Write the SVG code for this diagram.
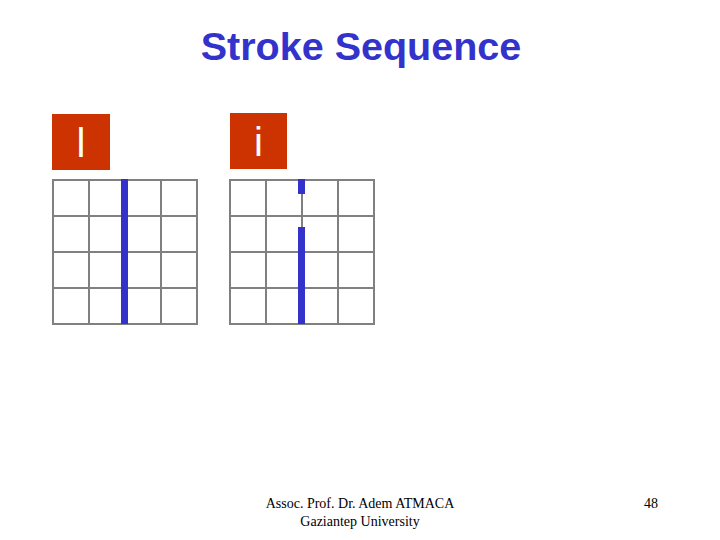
<svg xmlns="http://www.w3.org/2000/svg" width="720" height="540" viewBox="0 0 720 540">
<style>
.title{font-family:"Liberation Sans",Arial,sans-serif;font-weight:bold;font-size:39.5px;fill:#3333CC;text-anchor:middle}
.box{fill:#CC3300}
.letter{font-family:"Liberation Sans",Arial,sans-serif;font-size:40px;fill:#FFFFFF;text-anchor:middle}
.grid{fill:none;stroke:#808080;stroke-width:2}
.stroke{fill:#3333CC}
.foot{font-family:"Liberation Serif","Times New Roman",serif;font-size:14px;fill:#000000;text-anchor:middle}
</style>
<rect width="720" height="540" fill="#FFFFFF"/>
<text class="title" x="361" y="60">Stroke Sequence</text>
<g id="char-l">
<rect class="box" x="52" y="114" width="58" height="56"/>
<text class="letter" x="81" y="157">l</text>
</g>
<g id="grid-l">
<rect class="grid" x="53" y="180" width="144" height="144"/>
<path class="grid" d="M89 180V324M125 180V324M161 180V324M53 216H197M53 252H197M53 288H197"/>
<rect class="stroke" x="121" y="179" width="7" height="145"/>
</g>
<g id="char-i">
<rect class="box" x="230" y="113" width="57" height="56"/>
<text class="letter" x="258.5" y="156">i</text>
</g>
<g id="grid-i">
<rect class="grid" x="230" y="180" width="144" height="144"/>
<path class="grid" d="M266 180V324M302 180V324M338 180V324M230 216H374M230 252H374M230 288H374"/>
<rect class="stroke" x="298" y="179" width="7" height="15"/>
<rect class="stroke" x="298" y="227" width="7" height="97"/>
</g>
<g id="footer">
<text class="foot" x="360" y="508">Assoc. Prof. Dr. Adem ATMACA</text>
<text class="foot" x="360" y="526">Gaziantep University</text>
<text class="foot" x="651" y="508">48</text>
</g>
</svg>
